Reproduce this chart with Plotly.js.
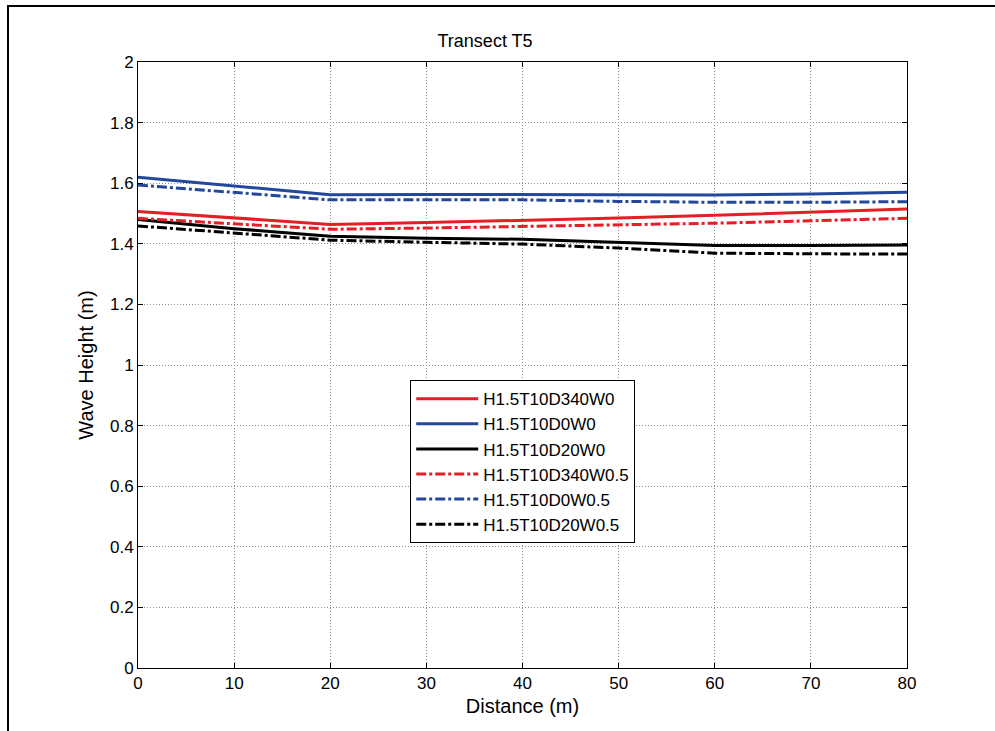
<!DOCTYPE html>
<html>
<head>
<meta charset="utf-8">
<script src="https://cdn.plot.ly/plotly-3.0.1.min.js"></script>
<style>
html,body{margin:0;padding:0;background:#fff;}
#wrap{position:relative;width:995px;height:731px;overflow:hidden;}
#frame{position:absolute;left:7px;top:5px;width:1000px;height:740px;border-left:2px solid #000;border-top:2px solid #000;pointer-events:none;z-index:5;}
#chart{position:absolute;left:0;top:0;width:995px;height:731px;}
</style>
</head>
<body>
<div id="wrap"><div id="chart"></div><div id="frame"></div></div>
<script>
const distance = [0, 10, 20, 30, 40, 50, 60, 70, 80];
const seriesNames = ["H1.5T10D340W0", "H1.5T10D0W0", "H1.5T10D20W0", "H1.5T10D340W0.5", "H1.5T10D0W0.5", "H1.5T10D20W0.5"];
const h_D340_W0   = [1.507, 1.486, 1.464, 1.470, 1.477, 1.485, 1.494, 1.504, 1.515];
const h_D0_W0     = [1.620, 1.590, 1.562, 1.563, 1.563, 1.562, 1.561, 1.564, 1.570];
const h_D20_W0    = [1.480, 1.450, 1.425, 1.418, 1.415, 1.405, 1.394, 1.394, 1.396];
const h_D340_W05  = [1.484, 1.466, 1.448, 1.452, 1.457, 1.462, 1.468, 1.476, 1.484];
const h_D0_W05    = [1.594, 1.570, 1.545, 1.545, 1.545, 1.540, 1.537, 1.537, 1.539];
const h_D20_W05   = [1.459, 1.435, 1.412, 1.405, 1.399, 1.386, 1.369, 1.367, 1.366];

const RED = '#e31e24', BLUE = '#23479b', BLACK = '#000000';
const ys = [h_D340_W0, h_D0_W0, h_D20_W0, h_D340_W05, h_D0_W05, h_D20_W05];
const cols = [RED, BLUE, BLACK, RED, BLUE, BLACK];
const dashes = ['solid','solid','solid','10px,3px,3px,3px','10px,3px,3px,3px','10px,3px,3px,3px'];

const traces = ys.map((y, i) => ({
  x: distance, y: y, type: 'scatter', mode: 'lines', name: seriesNames[i],
  line: {color: cols[i], width: 3, dash: dashes[i]}
}));

const FAM = 'Liberation Sans, Arial, sans-serif';
const axisCommon = {
  showline: true, linecolor: '#000', linewidth: 1, mirror: 'ticks',
  ticks: 'inside', ticklen: 5, tickcolor: '#000', tickwidth: 1,
  showgrid: true, gridcolor: '#8c8c8c', griddash: '1px,2px', gridwidth: 1,
  zeroline: false, tickfont: {family: FAM, size: 17, color: '#000'}
};
const layout = {
  width: 995, height: 731,
  margin: {l: 138, r: 88, t: 62, b: 63},
  paper_bgcolor: '#fff', plot_bgcolor: '#fff',
  font: {family: FAM, color: '#000'},
  title: {text: 'Transect T5', font: {family: FAM, size: 18, color: '#000'}, x: 0.4875, xanchor: 'center', y: 0.944, yanchor: 'middle'},
  xaxis: Object.assign({}, axisCommon, {range: [0, 80], tickvals: [0,10,20,30,40,50,60,70,80],
    title: {text: 'Distance (m)', font: {family: FAM, size: 20, color: '#000'}, standoff: 6}}),
  yaxis: Object.assign({}, axisCommon, {range: [0, 2], tickvals: [0,0.2,0.4,0.6,0.8,1,1.2,1.4,1.6,1.8,2],
    ticktext: ['0','0.2','0.4','0.6','0.8','1','1.2','1.4','1.6','1.8','2'],
    title: {text: 'Wave Height (m)', font: {family: FAM, size: 20, color: '#000'}, standoff: 10}}),
  legend: {x: 0.354, y: 0.475, xanchor: 'left', yanchor: 'top', bgcolor: '#fff', bordercolor: '#000', borderwidth: 1,
    font: {family: FAM, size: 17, color: '#000'}, tracegroupgap: 0, itemwidth: 62},
  showlegend: true
};
Plotly.newPlot('chart', traces, layout, {displayModeBar: false, staticPlot: true});
</script>
</body>
</html>
